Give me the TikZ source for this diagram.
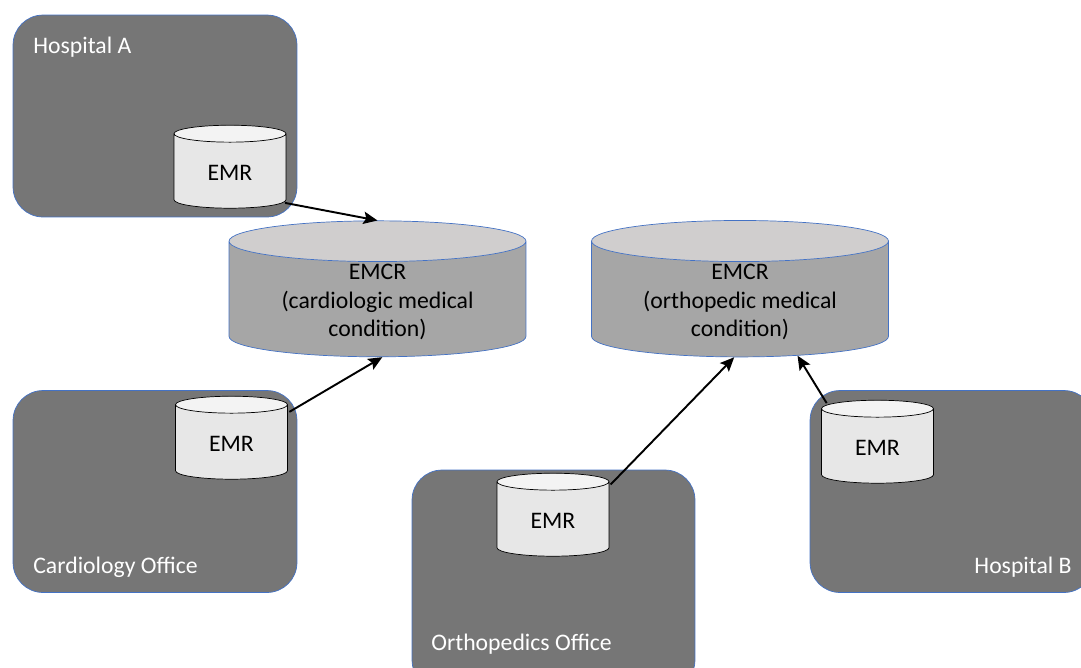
\documentclass[tikz,border=0pt]{standalone}
\usepackage{fontspec}
\setmainfont{Carlito}
\usetikzlibrary{positioning,shapes,arrows.meta}

\definecolor{boxgray}{RGB}{118,118,118}
\definecolor{boxblue}{RGB}{68,114,196}
\definecolor{emrbody}{RGB}{231,231,231}
\definecolor{emrtop}{RGB}{243,243,243}
\definecolor{emcrbody}{RGB}{166,166,166}
\definecolor{emcrtop}{RGB}{208,206,206}

\begin{document}
\begin{tikzpicture}[
    x=0.02cm, y=-0.02cm,
    >={Stealth[length=8pt,width=7pt,inset=1.5pt]},
    font=\fontsize{13.5}{16}\selectfont,
    site/.style={
        rectangle,
        draw=boxblue,
        fill=boxgray,
        rounded corners=0.6cm,
        minimum width=5.68cm,
        minimum height=4.04cm,},
    sitelabel/.style={
        text=white,
        inner sep=0pt,},
    emr/.style={
        cylinder,
        shape border rotate=90,
        aspect=0.3,
        draw=black,
        cylinder uses custom fill,
        cylinder body fill=emrbody,
        cylinder end fill=emrtop,
        minimum width=2.24cm,
        minimum height=1.66cm,},
    emcr/.style={
        cylinder,
        shape border rotate=90,
        aspect=0.2,
        draw=boxblue,
        align=center,
        inner ysep=1.5pt,
        cylinder uses custom fill,
        cylinder body fill=emcrbody,
        cylinder end fill=emcrtop,
        minimum width=5.94cm,
        minimum height=2.32cm,},
    pil/.style={
        ->,
        line width=1.1pt,
        shorten <=1pt,}
]

\clip (0,0) rectangle (1081,667);

% sites
\node[site] (hospA) at (155,116) {};
\node[site] (cardio) at (155,491.5) {};
\node[site,minimum width=5.66cm,minimum height=4.4cm] (ortho) at (553.5,580) {};
\node[site] (hospB) at (952,491.5) {};

\node[sitelabel,anchor=base west] (hospAlabel) at (33,53) {Hospital A};
\node[sitelabel,anchor=base west] (cardiolabel) at (33,573) {Cardiology Office};
\node[sitelabel,anchor=base west] (ortholabel) at (431,650) {Orthopedics Office};
\node[sitelabel,anchor=base east] (hospBlabel) at (1072,573) {Hospital B};

% local records
\node[emr] (emrA) at (230,173) {EMR};
\node[emr] (emrC) at (231.5,444) {EMR};
\node[emr] (emrO) at (553,521) {EMR};
\node[emr] (emrB) at (877.5,448) {EMR};

% condition records
\node[emcr] (emcrL) at (377.5,302) {EMCR\\(cardiologic medical\\condition)};
\node[emcr] (emcrR) at (740,302) {EMCR\\(orthopedic medical\\condition)};

\path[pil] (emrA.-29) edge (emcrL.north);
\path[pil] (emrC.29) edge (emcrL.-85);
\path[pil] (emrO.32) edge (emcrR.-96);
\path[pil] (emrB.139) edge (emcrR.-43);

\end{tikzpicture}
\end{document}
